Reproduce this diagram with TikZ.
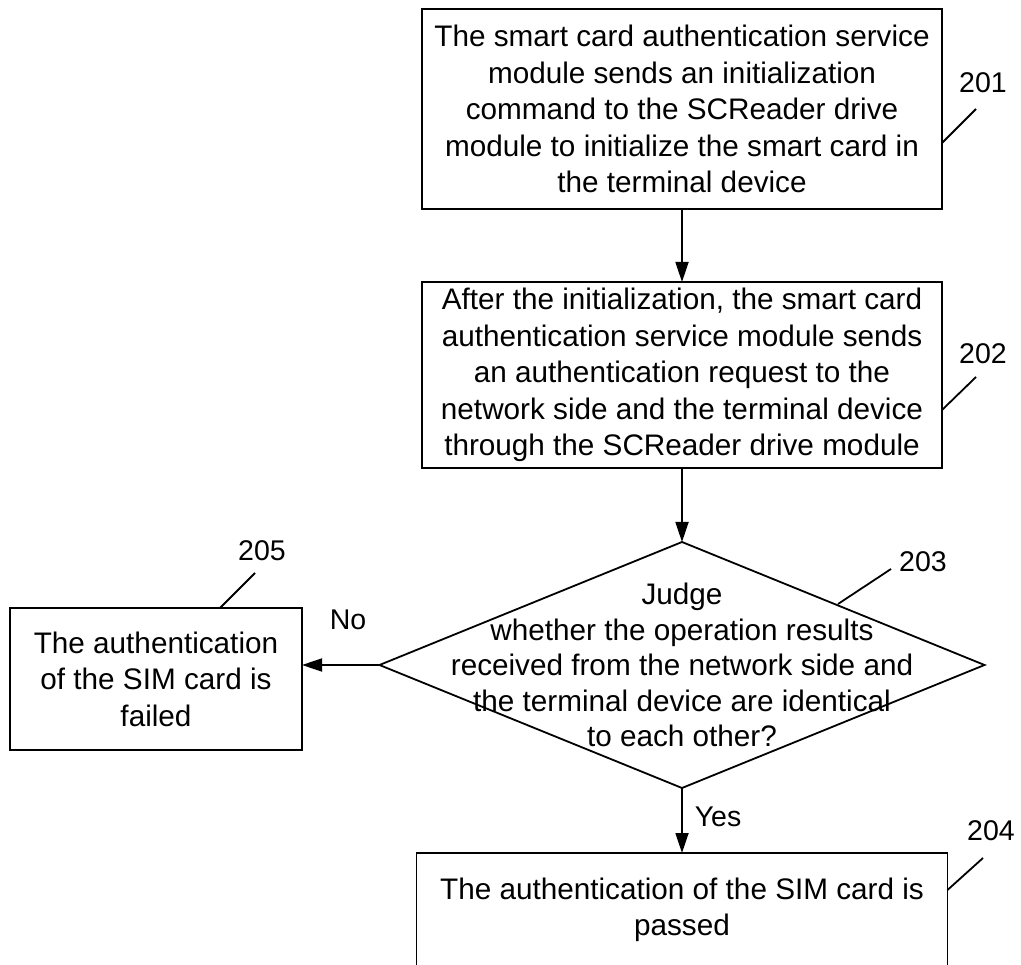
\documentclass[tikz,border=0pt]{standalone}
\usepackage{fontspec}
\setmainfont{Liberation Sans}
\usetikzlibrary{shapes.geometric,arrows.meta}
\begin{document}
\begin{tikzpicture}[x=1pt,y=-1pt,
  box/.style={draw, line width=1.8pt, rectangle, inner sep=0pt, outer sep=0pt, align=center, font=\fontsize{29.7}{36.5}\selectfont},
  dtext/.style={inner sep=0pt, align=center, font=\fontsize{29.7}{35.5}\selectfont},
  tag/.style={inner sep=0pt, font=\fontsize{28.5}{34}\selectfont},
  flow/.style={line width=1.8pt, -{Triangle[length=20pt,width=13pt]}},
  leader/.style={line width=1.8pt}]
\clip (0,0) rectangle (1021,965);
\node[box, minimum width=520pt, minimum height=200pt] (b201) at (682,109) {The smart card authentication service\\module sends an initialization\\command to the SCReader drive\\module to initialize the smart card in\\the terminal device};
\node[box, minimum width=520pt, minimum height=186pt] (b202) at (682,375) {After the initialization, the smart card\\authentication service module sends\\an authentication request to the\\network side and the terminal device\\through the SCReader drive module};
\node[draw, diamond, line width=1.8pt, inner sep=0pt, outer sep=0pt, minimum width=605pt, minimum height=246pt] (d203) at (682,665) {};
\node[dtext] (t203) at (682,665) {Judge\\whether the operation results\\received from the network side and\\the terminal device are identical\\to each other?};
\node[box, minimum width=292pt, minimum height=142pt] (b205) at (156,679) {The authentication\\of the SIM card is\\failed};
\node[box, minimum width=531pt, minimum height=114pt] (b204) at (682,910) {The authentication of the SIM card is\\passed};
\draw[flow] (b201.south) -- (b202.north);
\draw[flow] (b202.south) -- (d203.north);
\draw[flow] (d203.west) -- (d203.west -| b205.east);
\draw[flow] (d203.south) -- (b204.north);
\node[tag] (no) at (348,620) {No};
\node[tag] (yes) at (718,817) {Yes};
\node[tag] (l201) at (983,83) {201};
\node[tag] (l202) at (983,354) {202};
\node[tag] (l203) at (923,562) {203};
\node[tag] (l204) at (991,831) {204};
\node[tag] (l205) at (262,551) {205};
\coordinate (e201) at (976,109);
\coordinate (e202) at (976,377);
\coordinate (e203) at (891,569);
\coordinate (e204) at (983,858);
\coordinate (e205) at (255,573);
\coordinate (s203) at (838,604);
\draw[leader] ([yshift=-34pt]b201.east) -- (e201);
\draw[leader] ([yshift=-35pt]b202.east) -- (e202);
\draw[leader] (s203) -- (e203);
\draw[leader] ([yshift=20pt]b204.east) -- (e204);
\draw[leader] (b205.north -| 220,0) -- (e205);
\end{tikzpicture}
\end{document}
